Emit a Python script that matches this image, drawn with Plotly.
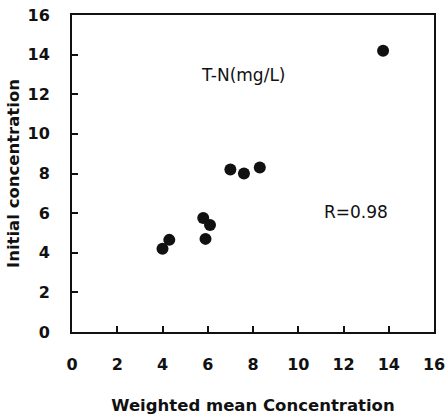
import plotly.graph_objects as go

# Data
weighted_mean = [4.0, 4.3, 5.8, 5.9, 6.1, 7.0, 7.6, 8.3, 13.75]
initial_conc = [4.2, 4.65, 5.75, 4.7, 5.4, 8.2, 8.0, 8.3, 14.2]
tick_vals = [0, 2, 4, 6, 8, 10, 12, 14, 16]
tick_text = ["0", "2", "4", "6", "8", "10", "12", "14", "16"]

fam = "DejaVu Sans"

fig = go.Figure()
fig.add_trace(go.Scatter(
    x=weighted_mean, y=initial_conc, mode="markers",
    marker=dict(size=12, color="#111111", line=dict(width=0)),
    showlegend=False,
))

fig.add_annotation(x=7.6, y=12.95, xref="x", yref="y", text="T-N(mg/L)",
                   showarrow=False, font=dict(family=fam, size=17, color="#111"))
fig.add_annotation(x=12.57, y=6.05, xref="x", yref="y", text="R=0.98",
                   showarrow=False, font=dict(family=fam, size=17, color="#111"))

axis_common = dict(
    range=[0, 16], tickvals=tick_vals,
    ticktext=["<b>%s</b>" % t for t in tick_text],
    ticks="inside", ticklen=6, tickwidth=1.5, tickcolor="#111",
    showline=True, linewidth=2, linecolor="#111", mirror=True,
    showgrid=False, zeroline=False, automargin=False,
    ticklabeloverflow="allow",
    tickfont=dict(family=fam, size=16, color="#111"),
)

fig.update_xaxes(**axis_common, ticklabelstandoff=17,
                 title=dict(text="<b>Weighted mean Concentration</b>", standoff=26,
                            font=dict(family=fam, size=16.5, color="#111")))
fig.update_yaxes(**axis_common, ticklabelstandoff=17,
                 title=dict(text="<b>Initial concentration</b>", standoff=4,
                            font=dict(family=fam, size=16.5, color="#111")))

fig.update_layout(
    width=445, height=418,
    margin=dict(l=72, r=11, t=15, b=86, autoexpand=False),
    plot_bgcolor="white", paper_bgcolor="white",
)

fig.write_html("out.html")
